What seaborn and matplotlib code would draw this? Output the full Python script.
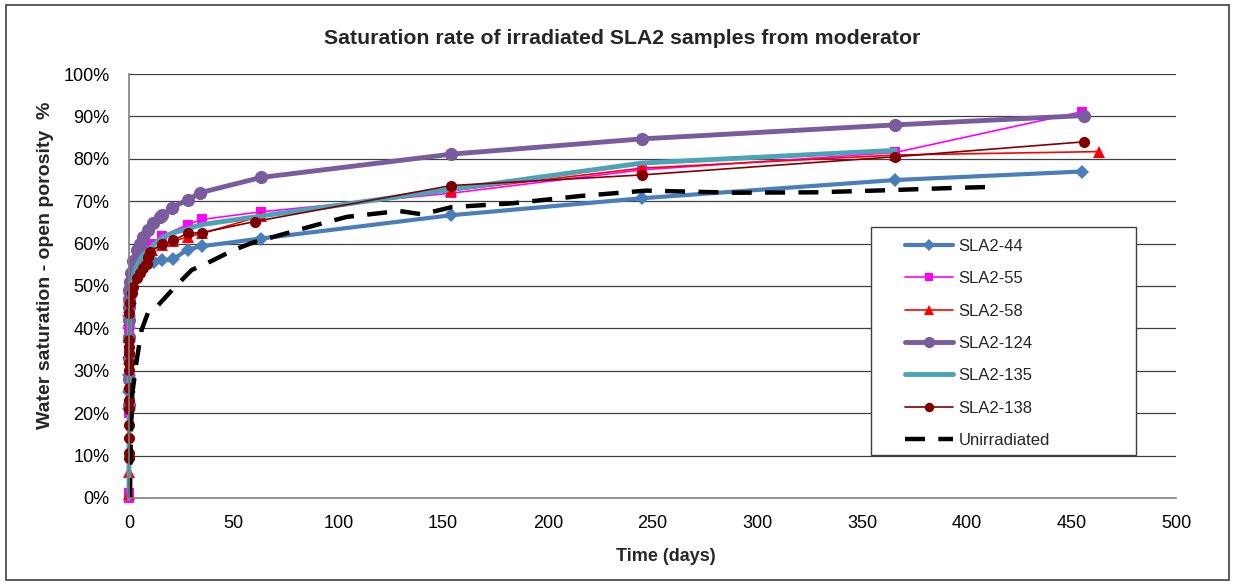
import matplotlib
matplotlib.use("Agg")
import matplotlib.pyplot as plt
from matplotlib.patches import Rectangle
from matplotlib.ticker import FuncFormatter
import pandas as pd
import seaborn as sns

# ---- measured saturation data (time in days, saturation in % of open porosity) ----
t44 = [0, 0.005, 0.01, 0.02, 0.04, 0.08, 0.15, 0.3, 0.6, 1, 2, 3, 5, 7, 12, 16, 21, 28, 35, 63, 154, 245, 366, 455]
v44 = [21, 25, 29, 33, 37, 40, 43, 46, 48, 50, 52, 53, 54, 55, 55.7, 56.1, 56.3, 58.6, 59.4, 61.2, 66.7, 70.7, 75.0, 77.0]

t55 = [0, 0.003, 0.01, 0.02, 0.05, 0.1, 0.2, 0.4, 0.7, 1, 2, 3, 5, 7, 10, 16, 28, 35, 63, 154, 245, 366, 455]
v55 = [0, 1.2, 20, 28, 35, 40, 44, 47, 50, 52, 54, 55.5, 57, 58.5, 60, 61.8, 64.5, 65.7, 67.5, 71.9, 77.4, 81.5, 91.1]

t58 = [0, 0.003, 0.01, 0.02, 0.05, 0.1, 0.2, 0.4, 0.7, 1, 2, 3, 5, 7, 10.8, 15.6, 21, 28, 35, 63, 154, 245, 366, 463]
v58 = [1, 6.2, 27, 33, 38, 42, 45, 48, 50, 51.5, 53, 54.5, 56, 57.5, 58.5, 59.7, 60.5, 61.6, 62.4, 66.5, 72.5, 77.8, 80.9, 81.7]

t124 = [0, 0.005, 0.01, 0.02, 0.04, 0.07, 0.1, 0.2, 0.5, 1, 2, 3.7, 5.3, 6.8, 9.2, 11.6, 14.8, 16, 20.4, 28, 34, 63, 154, 245, 366, 456]
v124 = [22, 28, 33, 38, 42, 45, 47, 49, 51, 53, 56, 58.5, 60, 61.6, 63.2, 64.8, 66.2, 66.7, 68.5, 70.3, 72, 75.6, 81.1, 84.7, 88.0, 90.2]

t135 = [0, 0.01, 0.05, 0.2, 0.5, 1, 2, 3, 5, 7, 10, 16, 21, 28, 35, 63, 154, 245, 366]
v135 = [0, 20, 35, 42, 46, 49, 52, 54, 56, 57.5, 59, 61.5, 62.5, 63.5, 64.5, 66.5, 72.8, 79.0, 82.0]

t138 = [0, 0.002, 0.004, 0.007, 0.01, 0.015, 0.02, 0.03, 0.04, 0.05, 0.07, 0.1, 0.2, 0.5, 1.3, 2, 3.7,
        5.2, 6.8, 8.4, 9, 10, 16, 21, 28, 35, 60, 154, 245, 366, 456]
v138 = [9.4, 10.5, 14.1, 17.2, 21, 23.1, 25.9, 30.2, 31.8, 34.1, 35.7, 37.3, 43.6, 45.9, 48.3, 49.8, 51.8,
        53, 54.2, 55.3, 56.9, 58.1, 59.8, 60.8, 62.4, 62.6, 65.2, 73.7, 76.2, 80.5, 84]

t_unirr = [0.5, 0.7, 1, 1.6, 3.7, 6, 9, 14, 22, 30, 37, 50, 59, 72, 88, 104, 129, 140, 154, 183, 215,
           247, 290, 328, 363, 392, 414]
v_unirr = [0, 9, 17, 24.7, 32.5, 39.6, 43.6, 45.5, 49.8, 53.8, 55.3, 58.5, 60.2, 62, 64.2, 66.3, 67.7,
           66.9, 68.6, 69.5, 71.2, 72.5, 72.0, 72.1, 72.6, 73.1, 73.4]

x_ticks = list(range(0, 501, 50))
y_ticks = list(range(0, 101, 10))

series = [
    ("SLA2-44", t44, v44, dict(color="#4A7EBB", lw=3.0, marker="D", ms=7)),
    ("SLA2-55", t55, v55, dict(color="#FF00FF", lw=1.2, marker="s", ms=7)),
    ("SLA2-58", t58, v58, dict(color="#FF0000", lw=1.2, marker="^", ms=8)),
    ("SLA2-124", t124, v124, dict(color="#7A5C9E", lw=3.5, marker="o", ms=9.5)),
    ("SLA2-135", t135, v135, dict(color="#4BA3B8", lw=3.5, marker=None, ms=0)),
    ("SLA2-138", t138, v138, dict(color="#800000", lw=1.2, marker="o", ms=8)),
]

sns.set_theme(style="white")
plt.rcParams["font.family"] = ["Liberation Sans", "DejaVu Sans"]

fig = plt.figure(figsize=(12.33, 5.86), dpi=100)
ax = fig.add_axes([0.1046, 0.1502, 0.8492, 0.7235])

for name, t, v, st in series:
    df = pd.DataFrame({"t": t, "v": v})
    sns.lineplot(data=df, x="t", y="v", ax=ax, sort=False, estimator=None,
                 color=st["color"], linewidth=st["lw"], marker=st["marker"],
                 markersize=st["ms"], markeredgewidth=0, label=name, legend=False)

df_u = pd.DataFrame({"t": t_unirr, "v": v_unirr})
sns.lineplot(data=df_u, x="t", y="v", ax=ax, sort=False, estimator=None,
             color="black", linewidth=3.2, linestyle=(0, (4.5, 3)), label="Unirradiated",
             legend=False)

for ln in ax.get_lines():
    ln.set_clip_on(False)

ax.set_xlim(0, 500)
ax.set_ylim(0, 100)
ax.set_xticks(x_ticks)
ax.set_yticks(y_ticks)
ax.yaxis.set_major_formatter(FuncFormatter(lambda v, p: f"{v:.0f}%"))
ax.grid(axis="y", color="#404040", linewidth=0.9)
ax.grid(axis="x", visible=False)
ax.set_axisbelow(True)
for s in ("top", "right"):
    ax.spines[s].set_visible(False)
for s in ("left", "bottom"):
    ax.spines[s].set_color("#808080")
    ax.spines[s].set_linewidth(1.2)
ax.tick_params(axis="both", which="major", direction="out", length=5, width=1,
               color="#808080", labelsize=13, labelcolor="black")
ax.tick_params(axis="y", pad=9)
ax.tick_params(axis="x", pad=7)
ax.set_xlabel("")
ax.set_ylabel("")

fig.text(0.540, 0.050, "Time (days)", ha="center", va="center", fontsize=13, fontweight="bold")
fig.text(0.037, 0.548, "Water saturation - open porosity  %", ha="center", va="center",
         rotation=90, fontsize=14, fontweight="bold")
fig.text(0.505, 0.935, "Saturation rate of irradiated SLA2 samples from moderator",
         ha="center", va="center", fontsize=15.3, fontweight="bold")

# legend box drawn as its own white panel, entries placed inside it
ax.add_patch(Rectangle((0.7087, 0.1014), 0.2531, 0.5378, transform=ax.transAxes,
                       facecolor="white", edgecolor="#404040", linewidth=1.0,
                       zorder=5, clip_on=False))
h, l = ax.get_legend_handles_labels()
leg = ax.legend(h, l, loc="upper left", bbox_to_anchor=(0.7412, 0.611), frameon=False,
                fontsize=12, handlelength=2.9, labelspacing=1.04, borderpad=0,
                handletextpad=0.3, borderaxespad=0, markerscale=0.85)
leg.set_zorder(6)

fig.patches.append(Rectangle((0.005, 0.010), 0.992, 0.982, transform=fig.transFigure,
                             fill=False, edgecolor="#404040", linewidth=1.2))

fig.savefig("out.png", dpi=100, facecolor="white")
